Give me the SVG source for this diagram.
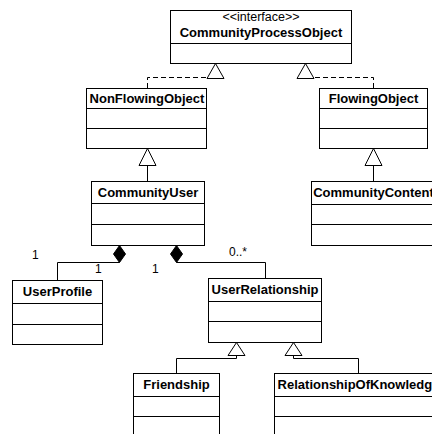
<svg xmlns="http://www.w3.org/2000/svg" width="432" height="434" viewBox="0 0 432 434">
<style>
.box{fill:#fff;stroke:#000;stroke-width:1}
.ln{fill:none;stroke:#000;stroke-width:1}
.dash{fill:none;stroke:#000;stroke-width:1;stroke-dasharray:5,3}
.tri{fill:#fff;stroke:#000;stroke-width:1}
.dia{fill:#000;stroke:#000;stroke-width:1}
.t{font-family:"Liberation Sans",Arial,sans-serif;font-size:13px;font-weight:bold;fill:#000;text-anchor:middle}
.s{font-family:"Liberation Sans",Arial,sans-serif;font-size:12.5px;fill:#000;text-anchor:middle}
.m{font-family:"Liberation Sans",Arial,sans-serif;font-size:12px;fill:#000}
</style>
<rect width="432" height="434" fill="#fff"/>
<g id="connectors">
  <path class="dash" d="M147.5,88 V77.5 H207"/>
  <polygon class="tri" points="215.5,63.5 207,78.5 224,78.5"/>
  <path class="dash" d="M373.5,88 V77.5 H314"/>
  <polygon class="tri" points="305.5,63.5 297,78.5 314,78.5"/>
  <path class="ln" d="M147.5,165 V181"/>
  <polygon class="tri" points="147.5,148.5 139,165.5 156,165.5"/>
  <path class="ln" d="M373.5,165 V181"/>
  <polygon class="tri" points="373.5,148.5 365,165.5 382,165.5"/>
  <path class="ln" d="M119.5,262.5 H57.5 V280"/>
  <polygon class="dia" points="119.5,245.5 113.5,254 119.5,262.5 125.5,254"/>
  <path class="ln" d="M176.5,262.5 H265.5 V278"/>
  <polygon class="dia" points="176.5,245.5 170.5,254 176.5,262.5 182.5,254"/>
  <path class="ln" d="M176.5,373 V358.5 H236.5 V355"/>
  <polygon class="tri" points="236.5,342.5 228,355.5 245,355.5"/>
  <path class="ln" d="M358.5,373 V358.5 H293.5 V355"/>
  <polygon class="tri" points="293.5,342.5 285,355.5 302,355.5"/>
  <text class="m" x="32" y="259">1</text>
  <text class="m" x="95" y="273">1</text>
  <text class="m" x="152" y="273">1</text>
  <text class="m" x="229" y="256">0..*</text>
</g>
<g id="CommunityProcessObject">
  <rect class="box" x="170.5" y="10.5" width="181" height="53"/>
  <path class="ln" d="M170.5,43.5 H351.5"/>
  <text class="s" x="261" y="21">&lt;&lt;interface&gt;&gt;</text>
  <text class="t" x="261" y="37">CommunityProcessObject</text>
</g>
<g id="NonFlowingObject">
  <rect class="box" x="86.5" y="88.5" width="120" height="60"/>
  <path class="ln" d="M86.5,108.5 H206.5 M86.5,128.5 H206.5"/>
  <text class="t" x="147" y="103">NonFlowingObject</text>
</g>
<g id="FlowingObject">
  <rect class="box" x="319.5" y="88.5" width="108" height="60"/>
  <path class="ln" d="M319.5,108.5 H427.5 M319.5,128.5 H427.5"/>
  <text class="t" x="373.5" y="103">FlowingObject</text>
</g>
<g id="CommunityUser">
  <rect class="box" x="91.5" y="181.5" width="113" height="64"/>
  <path class="ln" d="M91.5,203.5 H204.5 M91.5,224.5 H204.5"/>
  <text class="t" x="148" y="197">CommunityUser</text>
</g>
<g id="CommunityContent">
  <rect class="box" x="311.5" y="181.5" width="130" height="64"/>
  <path class="ln" d="M311.5,204.5 H441.5 M311.5,224.5 H441.5"/>
  <text class="t" x="373.5" y="197">CommunityContent</text>
</g>
<g id="UserProfile">
  <rect class="box" x="12.5" y="280.5" width="90" height="64"/>
  <path class="ln" d="M12.5,303.5 H102.5 M12.5,324.5 H102.5"/>
  <text class="t" x="57.5" y="296">UserProfile</text>
</g>
<g id="UserRelationship">
  <rect class="box" x="208.5" y="278.5" width="113" height="64"/>
  <path class="ln" d="M208.5,301.5 H321.5 M208.5,321.5 H321.5"/>
  <text class="t" x="265" y="294">UserRelationship</text>
</g>
<g id="Friendship">
  <rect class="box" x="133.5" y="373.5" width="86" height="70"/>
  <path class="ln" d="M133.5,396.5 H219.5 M133.5,416.5 H219.5"/>
  <text class="t" x="176.5" y="389">Friendship</text>
</g>
<g id="RelationshipOfKnowledge">
  <rect class="box" x="274.5" y="373.5" width="170" height="70"/>
  <path class="ln" d="M274.5,396.5 H444.5 M274.5,416.5 H444.5"/>
  <text class="t" x="358.5" y="389">RelationshipOfKnowledge</text>
</g>
</svg>
